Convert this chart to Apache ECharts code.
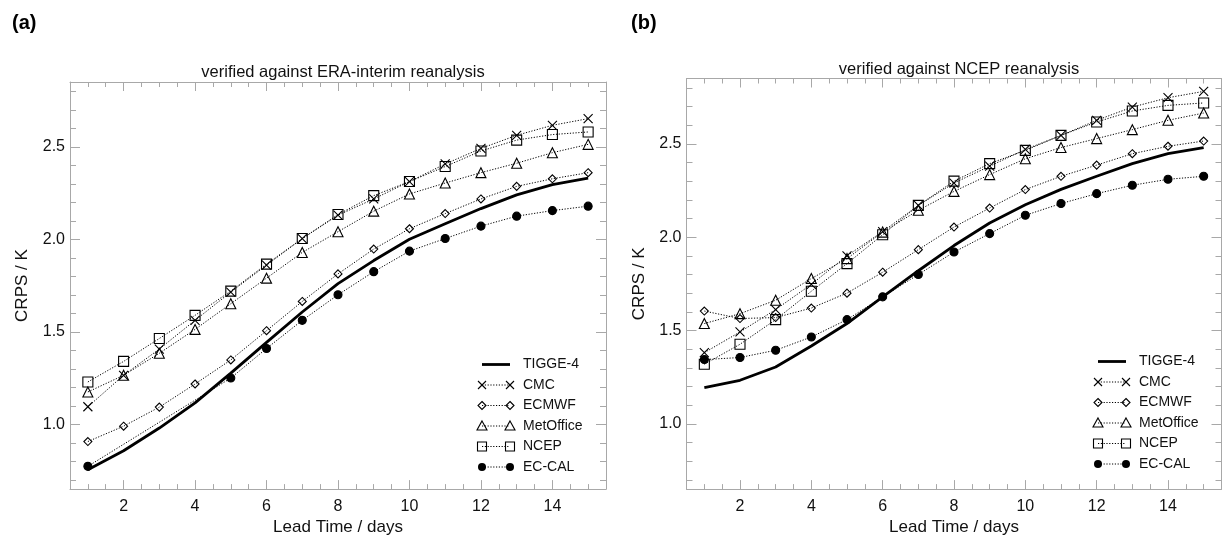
<!DOCTYPE html>
<html>
<head>
<meta charset="utf-8">
<script src="https://cdn.jsdelivr.net/npm/echarts@6/dist/echarts.min.js"></script>
<style>
  html, body { margin: 0; padding: 0; background: #fff; }
  #chart { width: 1225px; height: 541px; }
</style>
</head>
<body>
<div id="chart"></div>
<script>
// Lead time in days
const days = [1, 2, 3, 4, 5, 6, 7, 8, 9, 10, 11, 12, 13, 14, 15];

// CRPS (K), verified against ERA-interim reanalysis
const eraTigge   = [0.755, 0.857, 0.980, 1.116, 1.277, 1.443, 1.607, 1.760, 1.885, 2.000, 2.084, 2.166, 2.240, 2.295, 2.330];
const eraCmc     = [1.095, 1.265, 1.407, 1.562, 1.715, 1.860, 2.004, 2.130, 2.218, 2.312, 2.407, 2.491, 2.562, 2.616, 2.652];
const eraEcmwf   = [0.907, 0.990, 1.093, 1.218, 1.348, 1.506, 1.664, 1.813, 1.947, 2.057, 2.139, 2.218, 2.286, 2.327, 2.360];
const eraMetO    = [1.175, 1.265, 1.384, 1.513, 1.652, 1.790, 1.929, 2.041, 2.152, 2.245, 2.304, 2.360, 2.411, 2.468, 2.513];
const eraNcep    = [1.229, 1.340, 1.464, 1.589, 1.720, 1.866, 2.004, 2.134, 2.236, 2.312, 2.393, 2.477, 2.536, 2.566, 2.580];
// no calibrated values for days 2-4 in this verification
const eraEcCal   = [0.773, null, null, null, 1.250, 1.410, 1.562, 1.700, 1.825, 1.936, 2.004, 2.071, 2.125, 2.155, 2.179];

// CRPS (K), verified against NCEP reanalysis
const ncepTigge  = [1.194, 1.233, 1.304, 1.417, 1.537, 1.680, 1.820, 1.955, 2.076, 2.174, 2.256, 2.326, 2.394, 2.447, 2.480];
const ncepCmc    = [1.381, 1.492, 1.612, 1.747, 1.900, 2.030, 2.170, 2.290, 2.380, 2.470, 2.545, 2.626, 2.697, 2.747, 2.781];
const ncepEcmwf  = [1.604, 1.564, 1.569, 1.620, 1.700, 1.812, 1.933, 2.054, 2.156, 2.255, 2.326, 2.386, 2.447, 2.487, 2.515];
const ncepMetO   = [1.537, 1.590, 1.662, 1.778, 1.885, 2.027, 2.144, 2.245, 2.335, 2.420, 2.480, 2.528, 2.576, 2.626, 2.665];
const ncepNcep   = [1.319, 1.426, 1.558, 1.710, 1.858, 2.013, 2.170, 2.300, 2.394, 2.465, 2.545, 2.617, 2.676, 2.706, 2.719];
const ncepEcCal  = [1.344, 1.355, 1.394, 1.465, 1.558, 1.680, 1.800, 1.920, 2.019, 2.117, 2.180, 2.233, 2.278, 2.310, 2.326];

// Axis ticks and labels
const xMajorTicks = [2, 4, 6, 8, 10, 12, 14];
const xMinorTicks = [1, 1.5, 2.5, 3, 3.5, 4.5, 5, 5.5, 6.5, 7, 7.5, 8.5, 9, 9.5, 10.5, 11, 11.5, 12.5, 13, 13.5, 14.5, 15];
const yMajorTicks = [1.0, 1.5, 2.0, 2.5];
const yMinorTicks = [0.7, 0.8, 0.9, 1.1, 1.2, 1.3, 1.4, 1.6, 1.7, 1.8, 1.9, 2.1, 2.2, 2.3, 2.4, 2.6, 2.7, 2.8];
const xRange = [0.5, 15.5];
const yRange = [0.65, 2.85];

const seriesNames = ['TIGGE-4', 'CMC', 'ECMWF', 'MetOffice', 'NCEP', 'EC-CAL'];
const panelTitles = ['verified against ERA-interim reanalysis', 'verified against NCEP reanalysis'];
const panelTags = ['(a)', '(b)'];
const xName = 'Lead Time / days';
const yName = 'CRPS / K';

const FONT = '"Liberation Sans", Arial, Helvetica, sans-serif';
const INK = '#111';
const AXIS_GREY = '#a8a8a8';

const CROSS_PATH = 'path://M0,0L10,10M10,0L0,10';

// marker style per model (TIGGE-4 is a plain thick line)
const markerDefs = {
  'CMC':       { symbol: CROSS_PATH, size: 9,  fill: 'rgba(0,0,0,0)' },
  'ECMWF':     { symbol: 'diamond',  size: 8,  fill: 'rgba(0,0,0,0)' },
  'MetOffice': { symbol: 'triangle', size: 10, fill: 'rgba(0,0,0,0)' },
  'NCEP':      { symbol: 'rect',     size: 10, fill: 'rgba(0,0,0,0)' },
  'EC-CAL':    { symbol: 'circle',   size: 8,  fill: '#000' }
};

const panels = [
  { grid: { left: 70, top: 82, width: 536, height: 410 },
    values: [eraTigge, eraCmc, eraEcmwf, eraMetO, eraNcep, eraEcCal] },
  { grid: { left: 686.5, top: 78.5, width: 535, height: 411 },
    values: [ncepTigge, ncepCmc, ncepEcmwf, ncepMetO, ncepNcep, ncepEcCal] }
];

function pairs(vals) { return days.map((d, i) => [d, vals[i]]); }

const grids = [], xAxes = [], yAxes = [], series = [], titles = [], graphics = [];

panels.forEach((p, gi) => {
  grids.push(Object.assign({ containLabel: false }, p.grid));
  const base = { type: 'value', gridIndex: gi, splitLine: { show: false } };
  const lineStyle = { show: true, lineStyle: { color: AXIS_GREY, width: 1 } };

  // x axes: bottom major (labelled), bottom minor, top major, top minor
  const xBase = Object.assign({}, base, { min: xRange[0], max: xRange[1] });
  const xa0 = xAxes.length;
  xAxes.push(Object.assign({}, xBase, {
    position: 'bottom', axisLine: lineStyle,
    axisTick: { show: true, inside: true, length: 9, customValues: xMajorTicks, lineStyle: { color: AXIS_GREY } },
    axisLabel: { show: true, customValues: xMajorTicks, margin: 9, color: INK, fontSize: 16, fontFamily: FONT },
    name: xName, nameLocation: 'middle', nameGap: 26,
    nameTextStyle: { color: INK, fontSize: 17, fontFamily: FONT }
  }));
  xAxes.push(Object.assign({}, xBase, {
    position: 'bottom', axisLine: { show: false },
    axisTick: { show: true, inside: true, length: 5, customValues: xMinorTicks, lineStyle: { color: AXIS_GREY } },
    axisLabel: { show: false }
  }));
  xAxes.push(Object.assign({}, xBase, {
    position: 'top', axisLine: lineStyle,
    axisTick: { show: true, inside: true, length: 9, customValues: xMajorTicks, lineStyle: { color: AXIS_GREY } },
    axisLabel: { show: false }
  }));
  xAxes.push(Object.assign({}, xBase, {
    position: 'top', axisLine: { show: false },
    axisTick: { show: true, inside: true, length: 5, customValues: xMinorTicks, lineStyle: { color: AXIS_GREY } },
    axisLabel: { show: false }
  }));

  // y axes: left major (labelled), left minor, right major, right minor
  const yBase = Object.assign({}, base, { min: yRange[0], max: yRange[1] });
  const ya0 = yAxes.length;
  yAxes.push(Object.assign({}, yBase, {
    position: 'left', axisLine: lineStyle,
    axisTick: { show: true, inside: true, length: 10, customValues: yMajorTicks, lineStyle: { color: AXIS_GREY } },
    axisLabel: { show: true, customValues: yMajorTicks, margin: 5, color: INK, fontSize: 16, fontFamily: FONT,
                 formatter: v => v.toFixed(1) },
    name: yName, nameLocation: 'middle', nameGap: 39, nameRotate: 90,
    nameTextStyle: { color: INK, fontSize: 17, fontFamily: FONT }
  }));
  yAxes.push(Object.assign({}, yBase, {
    position: 'left', axisLine: { show: false },
    axisTick: { show: true, inside: true, length: 6, customValues: yMinorTicks, lineStyle: { color: AXIS_GREY } },
    axisLabel: { show: false }
  }));
  yAxes.push(Object.assign({}, yBase, {
    position: 'right', axisLine: lineStyle,
    axisTick: { show: true, inside: true, length: 10, customValues: yMajorTicks, lineStyle: { color: AXIS_GREY } },
    axisLabel: { show: false }
  }));
  yAxes.push(Object.assign({}, yBase, {
    position: 'right', axisLine: { show: false },
    axisTick: { show: true, inside: true, length: 6, customValues: yMinorTicks, lineStyle: { color: AXIS_GREY } },
    axisLabel: { show: false }
  }));

  // model curves
  seriesNames.forEach((name, si) => {
    const vals = p.values[si];
    if (name === 'TIGGE-4') {
      series.push({
        name, type: 'line', xAxisIndex: xa0, yAxisIndex: ya0, data: pairs(vals),
        symbol: 'none', smooth: false, z: 3,
        lineStyle: { color: '#000', width: 2.8 }
      });
    } else {
      const m = markerDefs[name];
      series.push({
        name, type: 'line', xAxisIndex: xa0, yAxisIndex: ya0, data: pairs(vals),
        connectNulls: true,
        symbol: m.symbol, symbolSize: m.size, showSymbol: true, z: 4,
        lineStyle: { color: '#000', width: 1, type: [1.2, 1.6] },
        itemStyle: { color: m.fill, borderColor: '#000', borderWidth: 1.1 }
      });
    }
  });

  // panel title and tag
  const g = p.grid;
  titles.push({
    text: panelTitles[gi], left: g.left + g.width / 2, top: g.top - 23, textAlign: 'center',
    textStyle: { color: INK, fontSize: 16.5, fontWeight: 'normal', fontFamily: FONT }
  });
  titles.push({
    text: panelTags[gi], left: gi === 0 ? 7 : 626, top: 8,
    textStyle: { color: '#000', fontSize: 20, fontWeight: 'bold', fontFamily: FONT }
  });
});

// Legend: sample line with a marker at both ends, then the model name
function markerShape(name, cx, cy) {
  const st = { stroke: '#000', lineWidth: 1.1, fill: 'rgba(0,0,0,0)' };
  switch (name) {
    case 'CMC':
      return [
        { type: 'line', shape: { x1: cx - 4, y1: cy - 4, x2: cx + 4, y2: cy + 4 }, style: { stroke: '#000', lineWidth: 1.1 } },
        { type: 'line', shape: { x1: cx + 4, y1: cy - 4, x2: cx - 4, y2: cy + 4 }, style: { stroke: '#000', lineWidth: 1.1 } }
      ];
    case 'ECMWF':
      return [{ type: 'polygon', shape: { points: [[cx, cy - 4], [cx + 4, cy], [cx, cy + 4], [cx - 4, cy]] }, style: st }];
    case 'MetOffice':
      return [{ type: 'polygon', shape: { points: [[cx, cy - 5], [cx + 5, cy + 4], [cx - 5, cy + 4]] }, style: st }];
    case 'NCEP':
      return [{ type: 'rect', shape: { x: cx - 4.5, y: cy - 4.5, width: 9, height: 9 }, style: st }];
    case 'EC-CAL':
      return [{ type: 'circle', shape: { cx, cy, r: 4 }, style: { fill: '#000' } }];
  }
  return [];
}

const legendSpots = [{ x: 482, y: 364.5 }, { x: 1098, y: 361.5 }];
legendSpots.forEach(spot => {
  seriesNames.forEach((name, i) => {
    const cy = spot.y + i * 20.5;
    const x1 = spot.x, x2 = spot.x + 28;
    if (name === 'TIGGE-4') {
      graphics.push({ type: 'line', shape: { x1, y1: cy, x2, y2: cy }, style: { stroke: '#000', lineWidth: 2.8 } });
    } else {
      graphics.push({ type: 'line', shape: { x1, y1: cy, x2, y2: cy },
                      style: { stroke: '#000', lineWidth: 1, lineDash: [1.2, 1.6] } });
      markerShape(name, x1, cy).forEach(s => graphics.push(s));
      markerShape(name, x2, cy).forEach(s => graphics.push(s));
    }
    graphics.push({ type: 'text', x: x2 + 13, y: cy,
                    style: { text: name, fill: INK, fontSize: 14, fontFamily: FONT, verticalAlign: 'middle' } });
  });
});

const chart = echarts.init(document.getElementById('chart'), null, { renderer: 'canvas' });
chart.setOption({
  backgroundColor: '#fff',
  animation: false,
  title: titles,
  grid: grids,
  xAxis: xAxes,
  yAxis: yAxes,
  series,
  graphic: graphics
});
</script>
</body>
</html>
